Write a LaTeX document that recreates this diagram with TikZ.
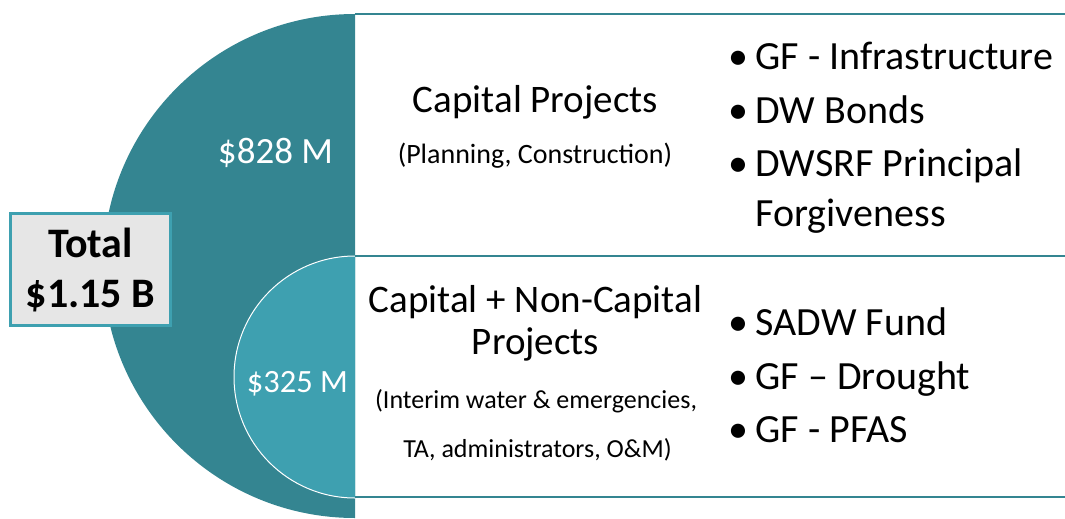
\documentclass[tikz,border=0pt]{standalone}
\usepackage{fontspec}
\setmainfont{Carlito}
\definecolor{darkteal}{HTML}{348591}
\definecolor{lightteal}{HTML}{3EA0B0}
\definecolor{boxgray}{HTML}{E6E6E6}

\begin{document}
\begin{tikzpicture}[x=1pt,y=-1pt,
    heading/.style={anchor=base,font=\fontsize{39}{44}\selectfont},
    note/.style={anchor=base,font=\fontsize{28}{32}\selectfont},
    item/.style={anchor=base west,font=\fontsize{40}{48}\selectfont},
    amount/.style={anchor=base,text=white}]
\useasboundingbox (0,0) rectangle (1065,519);
% the two half disks
\begin{scope}
    \clip (0,0) rectangle (355,519);
    \fill[darkteal] (355,266) circle[radius=252];
    \fill[lightteal] (355,377) circle[radius=121];
    \draw[white,line width=1] (355,377) circle[radius=121];
\end{scope}
\foreach \y in {14,256,497}
    \draw[darkteal,line width=1.5] (355,\y) -- (1065,\y);

\node[draw=lightteal,line width=3,fill=boxgray,minimum width=160,minimum height=112,align=center,
      font=\bfseries\fontsize{42}{50}\selectfont] (total) at (90.5,269.5) {Total\\\$1.15 B};

\node[amount,font=\fontsize{37}{44}\selectfont] (big) at (275.5,163) {\$828 M};
\node[amount,font=\fontsize{32.5}{39}\selectfont] (small) at (297.5,392) {\$325 M};

% upper row
\node[heading] (cap) at (535.5,112) {Capital Projects};
\node[note] (capnote) at (535,163) {(Planning, Construction)};
\foreach \t [count=\n] in {GF - Infrastructure, DW Bonds, DWSRF Principal}
    \node[item] (up\n) at (752,16+\n*53.5) {\llap{\textbullet\hspace{7pt}}\t};
\node[item] (up4) at (752,226) {Forgiveness};

% lower row
\node[heading] (mix1) at (535.5,312) {Capital + Non-Capital};
\node[heading] (mix2) at (535.5,354) {Projects};
\node[note,font=\fontsize{26}{30}\selectfont] (mixnote1) at (536,408) {(Interim water \& emergencies,};
\node[note,font=\fontsize{26}{30}\selectfont] (mixnote2) at (537.5,457) {TA, administrators, O\&M)};
\foreach \t [count=\n] in {SADW Fund, GF -- Drought, GF - PFAS}
    \node[item] (low\n) at (752,282+\n*53.5) {\llap{\textbullet\hspace{7pt}}\t};
\end{tikzpicture}
\end{document}
